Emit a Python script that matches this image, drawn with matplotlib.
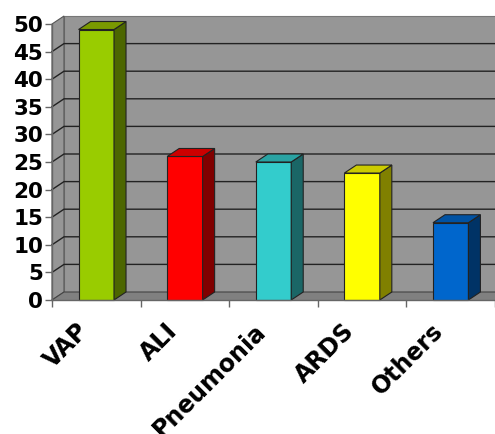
import matplotlib
matplotlib.use("Agg")
from matplotlib import pyplot as plt
from matplotlib.patches import Polygon
from matplotlib.transforms import ScaledTranslation

categories = ["VAP", "ALI", "Pneumonia", "ARDS", "Others"]
values = [49, 26, 25, 23, 14]
front_colors = ["#99cc00", "#ff0000", "#33cccc", "#ffff00", "#0066cc"]
side_colors = ["#4c6600", "#800000", "#1a6666", "#808000", "#003366"]
top_colors = ["#7a9900", "#cc0000", "#29a3a3", "#cccc00", "#0052a3"]
yticks = [0, 5, 10, 15, 20, 25, 30, 35, 40, 45, 50]

W, H = 495, 434
fig = plt.figure(figsize=(W / 100, H / 100), dpi=100)
ax = fig.add_axes([52 / W, (H - 300) / H, 443 / W, 276 / H])
ax.set_xlim(-0.5, 4.5)
ax.set_ylim(0, 50)

# depth offset of the 3d look, in data units (12 px right, 8 px up)
dx = 12 / 88.6
dy = 8 / 5.52
x0, x1 = -0.5, 4.5 + 1
ytop = yticks[-1]


def poly(pts, fc, ec="none", lw=0.8, z=1):
    ax.add_patch(Polygon(pts, closed=True, facecolor=fc, edgecolor=ec,
                         linewidth=lw, zorder=z, clip_on=False))


# back wall, side wall, floor
poly([(x0 + dx, dy), (x1, dy), (x1, ytop + dy), (x0 + dx, ytop + dy)],
     "#969696", "#777777", 0.8, 0)
poly([(x0, 0), (x0 + dx, dy), (x0 + dx, ytop + dy), (x0, ytop)],
     "#969696", "#555555", 0.8, 0)
poly([(x0, 0), (x1, 0), (x1 + dx, dy), (x0 + dx, dy)], "#808080", "none", 0, 0)

for v in yticks[1:-1]:
    ax.plot([x0, x0 + dx, x1], [v, v + dy, v + dy], color="#222222",
            linewidth=1.0, zorder=0.5, clip_on=False)
ax.plot([x0, x0 + dx, x1], [0, dy, dy], color="#444444",
        linewidth=0.8, zorder=0.5, clip_on=False)

# bars
bw = 0.2
for i, v in enumerate(values):
    l, r = i - bw, i + bw
    poly([(l, 0), (r, 0), (r, v), (l, v)], front_colors[i], "#222222", 0.8, 2)
    poly([(r, 0), (r + dx, dy), (r + dx, v + dy), (r, v)],
         side_colors[i], "#222222", 0.8, 2)
    poly([(l, v), (r, v), (r + dx, v + dy), (l + dx, v + dy)],
         top_colors[i], "#222222", 0.8, 2)

for s in ["top", "right"]:
    ax.spines[s].set_visible(False)
for s in ["left", "bottom"]:
    ax.spines[s].set_color("#666666")
    ax.spines[s].set_linewidth(1.0)
    ax.spines[s].set_zorder(3)

ax.set_yticks(yticks)
ax.set_yticklabels([str(t) for t in yticks], fontsize=15.5, fontweight="bold",
                   family="DejaVu Sans")
ax.tick_params(axis="y", length=5, width=1, color="#666666", pad=1.5)
ax.set_xticks([i - 0.5 for i in range(len(categories) + 1)])
ax.set_xticklabels([])
ax.tick_params(axis="x", length=5, width=1, color="#666666", direction="out")

shift = ScaledTranslation(-20 / 100, -19 / 100, fig.dpi_scale_trans)
for i, c in enumerate(categories):
    ax.text(i, 0, c, transform=ax.transData + shift, rotation=45,
            rotation_mode="anchor", ha="right", va="top", fontsize=17,
            fontweight="bold", family="DejaVu Sans")

fig.savefig("out.png", dpi=100)
